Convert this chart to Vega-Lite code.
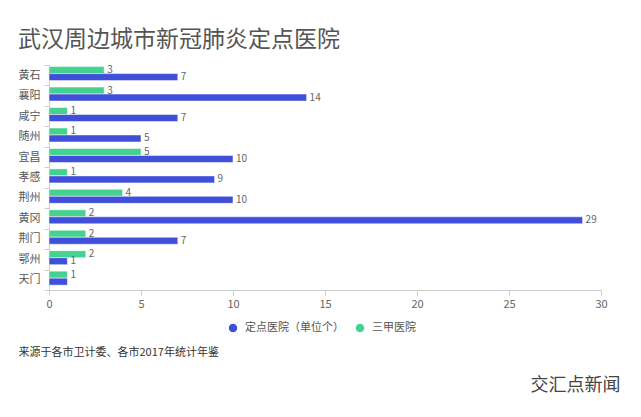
{
  "$schema": "https://vega.github.io/schema/vega-lite/v6.json",
  "width": 552,
  "height": 225,
  "autosize": {"type": "none"},
  "padding": {"left": 49, "top": 65, "right": 40, "bottom": 127},
  "background": "white",
  "title": {
    "text": "武汉周边城市新冠肺炎定点医院",
    "anchor": "start",
    "frame": "group",
    "dx": -31,
    "offset": 7,
    "fontSize": 23,
    "fontWeight": "normal",
    "color": "#555555",
    "font": "Noto Sans CJK SC"
  },
  "config": {
    "view": {"stroke": null},
    "font": "Noto Sans CJK SC"
  },
  "data": {
    "values": [
      {"city": "黄石", "type": "三甲医院", "value": 3},
      {"city": "黄石", "type": "定点医院（单位个）", "value": 7},
      {"city": "襄阳", "type": "三甲医院", "value": 3},
      {"city": "襄阳", "type": "定点医院（单位个）", "value": 14},
      {"city": "咸宁", "type": "三甲医院", "value": 1},
      {"city": "咸宁", "type": "定点医院（单位个）", "value": 7},
      {"city": "随州", "type": "三甲医院", "value": 1},
      {"city": "随州", "type": "定点医院（单位个）", "value": 5},
      {"city": "宜昌", "type": "三甲医院", "value": 5},
      {"city": "宜昌", "type": "定点医院（单位个）", "value": 10},
      {"city": "孝感", "type": "三甲医院", "value": 1},
      {"city": "孝感", "type": "定点医院（单位个）", "value": 9},
      {"city": "荆州", "type": "三甲医院", "value": 4},
      {"city": "荆州", "type": "定点医院（单位个）", "value": 10},
      {"city": "黄冈", "type": "三甲医院", "value": 2},
      {"city": "黄冈", "type": "定点医院（单位个）", "value": 29},
      {"city": "荆门", "type": "三甲医院", "value": 2},
      {"city": "荆门", "type": "定点医院（单位个）", "value": 7},
      {"city": "鄂州", "type": "三甲医院", "value": 2},
      {"city": "鄂州", "type": "定点医院（单位个）", "value": 1},
      {"city": "天门", "type": "三甲医院", "value": 1},
      {"city": "天门", "type": "定点医院（单位个）", "value": 1}
    ]
  },
  "encoding": {
    "y": {
      "field": "city",
      "type": "nominal",
      "sort": ["黄石", "襄阳", "咸宁", "随州", "宜昌", "孝感", "荆州", "黄冈", "荆门", "鄂州", "天门"],
      "scale": {"paddingInner": 0, "paddingOuter": 0},
      "axis": {
        "title": "交汇点新闻",
        "titleAngle": 0,
        "titleX": 481,
        "titleY": 320,
        "titleAlign": "left",
        "titleBaseline": "middle",
        "titleFontSize": 18,
        "titleFontWeight": "normal",
        "titleColor": "#444444",
        "tickBand": "extent",
        "domainColor": "#cccccc",
        "tickColor": "#cccccc",
        "tickSize": 5,
        "labelFontSize": 11,
        "labelColor": "#555555",
        "labelPadding": 4
      }
    },
    "yOffset": {
      "field": "type",
      "type": "nominal",
      "sort": ["三甲医院", "定点医院（单位个）"],
      "scale": {"paddingInner": 0, "paddingOuter": 0.46, "align": 0.25}
    },
    "x": {
      "field": "value",
      "type": "quantitative",
      "scale": {"domain": [0, 30], "nice": false},
      "axis": {
        "values": [0, 5, 10, 15, 20, 25, 30],
        "grid": false,
        "labelFlush": false,
        "title": "来源于各市卫计委、各市2017年统计年鉴",
        "titleAnchor": "start",
        "titleX": -31,
        "titleY": 62,
        "titleAlign": "left",
        "titleBaseline": "middle",
        "titleFontSize": 11,
        "titleFontWeight": "normal",
        "titleColor": "#333333",
        "domainColor": "#cccccc",
        "tickColor": "#cccccc",
        "tickSize": 5,
        "labelFontSize": 11,
        "labelColor": "#666666",
        "labelPadding": 3
      }
    },
    "color": {
      "field": "type",
      "type": "nominal",
      "scale": {"domain": ["定点医院（单位个）", "三甲医院"], "range": ["#3F4FD9", "#45D18F"]},
      "legend": {
        "title": null,
        "orient": "none",
        "legendX": 178,
        "legendY": 257,
        "direction": "horizontal",
        "symbolType": "circle",
        "symbolSize": 100,
        "symbolOpacity": 1,
        "labelFontSize": 11,
        "labelColor": "#555555",
        "columnPadding": 8,
        "labelOffset": 6
      }
    }
  },
  "layer": [
    {"mark": {"type": "bar", "stroke": "white", "strokeWidth": 0.5}},
    {
      "transform": [{"filter": "!(datum.city === '天门' && datum.type === '定点医院（单位个）')"}],
      "mark": {"type": "text", "align": "left", "baseline": "middle", "dx": 3, "fontSize": 10},
      "encoding": {
        "text": {"field": "value", "type": "quantitative"},
        "color": {"value": "#666666"}
      }
    }
  ]
}
